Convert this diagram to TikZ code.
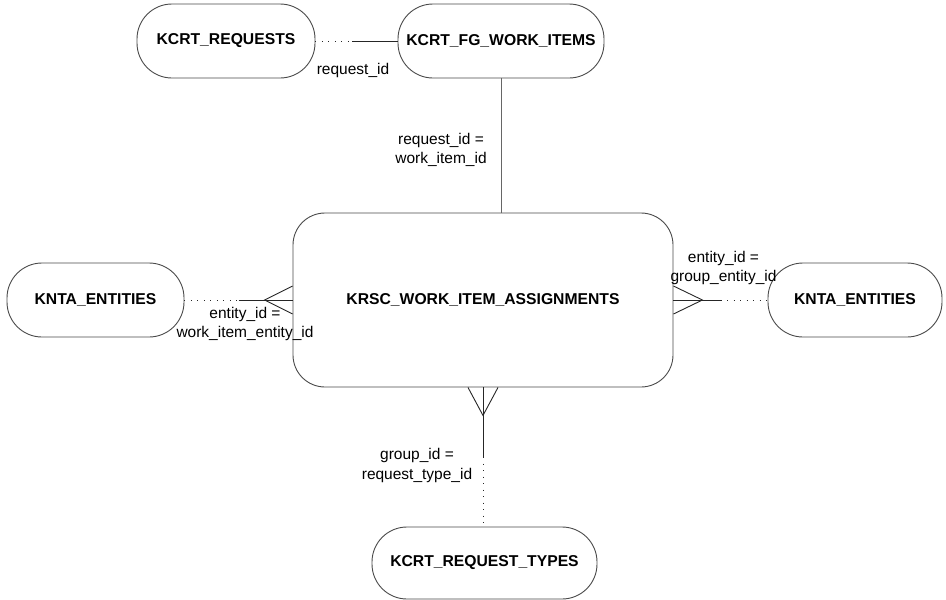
\documentclass[tikz,border=0pt]{standalone}
\usepackage{fontspec}
\setmainfont{Liberation Sans}
\usetikzlibrary{calc}
\definecolor{bordc}{HTML}{4A4A4A}
\begin{document}
\begin{tikzpicture}[x=1pt,y=-1pt,
  ent/.style={draw=bordc, line width=0.9pt, rounded corners=35pt, minimum height=74pt, inner sep=0pt,
    font=\bfseries\fontsize{15.7}{19}\selectfont, fill=white},
  lbl/.style={font=\fontsize{15.5}{19.5}\selectfont, align=center, inner sep=0pt},
  solidc/.style={draw=black!85, line width=0.9pt},
  greyc/.style={draw=black!60, line width=0.9pt},
  dotc/.style={draw=black!85, line width=0.9pt, dash pattern=on 1pt off 5.5pt}]
\useasboundingbox (0,0) rectangle (946,600);
% entities
\node[ent, minimum width=178pt] (req) at (226,41) {KCRT\_REQUESTS};
\node[ent, minimum width=206pt] (fg) at (501,41) {KCRT\_FG\_WORK\_ITEMS};
\node[ent, minimum width=380pt, minimum height=174pt, rounded corners=32pt] (main) at (483,300) {KRSC\_WORK\_ITEM\_ASSIGNMENTS};
\node[ent, minimum width=177pt] (kl) at (95.5,300) {KNTA\_ENTITIES};
\node[ent, minimum width=174pt] (kr) at (855,300) {KNTA\_ENTITIES};
\node[ent, minimum width=225pt, minimum height=72pt] (rt) at (484.5,563) {KCRT\_REQUEST\_TYPES};
% top horizontal: requests -- fg items
\coordinate (m1) at ($(req.east)!0.45!(fg.west)$);
\draw[dotc] (req.east) -- (m1);
\draw[solidc] (m1) -- (fg.west);
\node[lbl] (l1) at (353,70) {request\_id};
% fg -- main
\draw[greyc] (fg.south) -- (fg.south |- main.north);
\node[lbl] (l2) at (441,150) {request\_id =\\work\_item\_id};
% left entities -- main
\coordinate (lw) at (main.west |- kl.east);
\coordinate (m2) at ($(kl.east)!0.5!(lw)$);
\draw[dotc] (kl.east) -- (m2);
\draw[solidc] (m2) -- (lw);
\coordinate (la) at ($(lw)+(-28,0)$);
\draw[solidc] ($(lw)+(0,-14)$) -- (la) -- ($(lw)+(0,14)$);
\node[lbl] (l3) at (245,324) {entity\_id =\\work\_item\_entity\_id};
% right entities -- main
\coordinate (re) at (main.east |- kr.west);
\coordinate (m3) at ($(re)!0.5!(kr.west)$);
\draw[solidc] (re) -- (m3);
\draw[dotc] (m3) -- (kr.west);
\coordinate (ra) at ($(re)+(29,0)$);
\draw[solidc] ($(re)+(0,-14)$) -- (ra) -- ($(re)+(0,14)$);
\node[lbl] (l4) at (723.5,268) {entity\_id =\\group\_entity\_id};
% bottom: main -- request types
\coordinate (bs) at (main.south);
\coordinate (bt) at (main.south |- rt.north);
\coordinate (m4) at ($(bs)!0.5!(bt)$);
\draw[solidc] (bs) -- (m4);
\draw[dotc] (m4) -- (bt);
\coordinate (ba) at ($(bs)+(0,28)$);
\draw[solidc] ($(bs)+(-15,0)$) -- (ba) -- ($(bs)+(15,0)$);
\node[lbl] (l5) at (417,465.5) {group\_id =\\request\_type\_id};
\end{tikzpicture}
\end{document}
